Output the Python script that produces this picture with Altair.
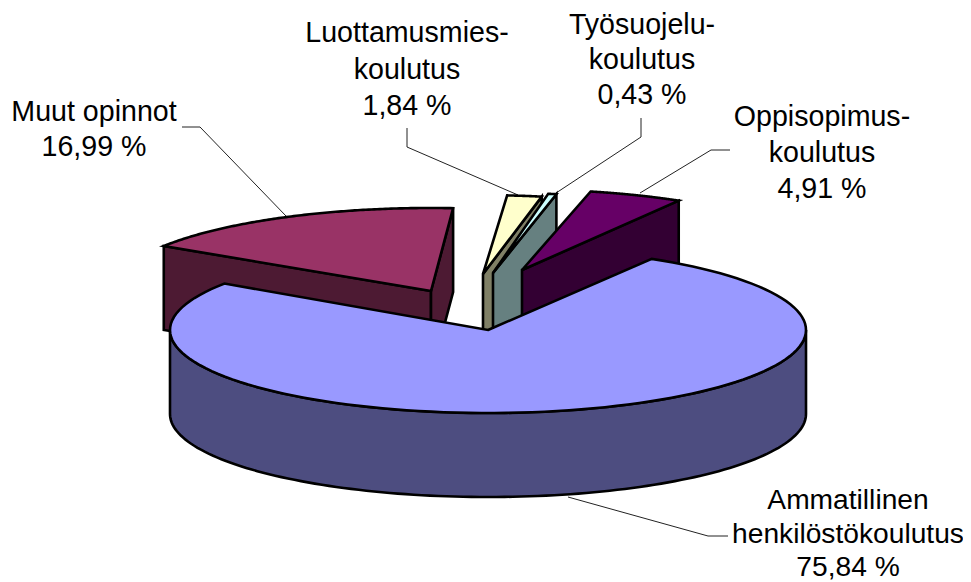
import math
import altair as alt

# --- chart values ---
categories = ["Ammatillinen henkilöstökoulutus", "Muut opinnot", "Luottamusmies-koulutus",
              "Työsuojelu-koulutus", "Oppisopimus-koulutus"]
shares = [75.84, 16.99, 1.84, 0.43, 4.91]
label_texts = ["Ammatillinen\nhenkilöstökoulutus\n75,84 %", "Muut opinnot\n16,99 %",
               "Luottamusmies-\nkoulutus\n1,84 %", "Työsuojelu-\nkoulutus\n0,43 %",
               "Oppisopimus-\nkoulutus\n4,91 %"]
top_colors = ["#9999ff", "#993366", "#ffffcc", "#ccffff", "#660066"]
side_colors = ["#4d4d80", "#4d1a33", "#808066", "#668080", "#330033"]

# --- pie geometry (page pixels) ---
CX, CY, RX, RY, DEPTH = 488, 330, 318, 83, 84
START_ANGLE = 59.0
apex_offset = [(0, 0), (-57, -39), (-5, -56), (5, -57), (34, -60)]
radius_factor = [1.0, 1.0, 0.95, 0.97, 0.97]
view_shift = [0.0, 1.2, 0.6, 1.5, 0.5]
label_xy = [(848, 501), (94, 112), (407, 33), (642, 25), (822, 117)]
label_size = [28.2, 28.6, 28.6, 28.6, 28.6]
label_leading = [33.5, 35, 36.5, 35, 36]
leaders = [
    [(568, 497), (708, 536), (728, 536)],
    [(182, 127), (200, 127), (286, 216)],
    [(407, 128), (407, 147), (518, 195)],
    [(641, 118), (641, 137), (556, 193)],
    [(730, 150), (711, 150), (640, 193)],
]

def rim(ax, ay, f, deg, dz=0):
    t = math.radians(deg)
    return [ax + f * RX * math.cos(t), ay - f * RY * math.sin(t) + dz]

def arc(ax, ay, f, a0, a1, dz=0, n=120):
    return [rim(ax, ay, f, a0 + (a1 - a0) * i / n, dz) for i in range(n + 1)]

def poly(points, fill):
    pts = list(points) + [points[0]]
    return {"type": "Feature", "properties": {"fill": fill},
            "geometry": {"type": "Polygon", "coordinates": [pts]}}

# slice angle spans, clockwise from the start angle
spans, a = [], START_ANGLE
for s in shares:
    spans.append((a, a - s * 3.6))
    a -= s * 3.6

features = []
def radial_face(ax, ay, f, deg, fill):
    o = rim(ax, ay, f, deg)
    return poly([[ax, ay], o, [o[0], o[1] + DEPTH], [ax, ay + DEPTH]], fill)

# back-to-front: Muut, Luottamus, Tyosuojelu, Oppisopimus, then the main slice
for i in [1, 2, 3, 4]:
    a0, a1 = spans[i]
    a0n, a1n = a0 % 360 + view_shift[i], a1 % 360 + view_shift[i]
    ax, ay = CX + apex_offset[i][0], CY + apex_offset[i][1]
    f = radius_factor[i]
    if i == 1:
        features.append(radial_face(ax, ay, f, a0n, side_colors[i]))
    features.append(radial_face(ax, ay, f, a1n, side_colors[i]))
    top = [[ax, ay]] + arc(ax, ay, f, a0n, a1n)
    features.append(poly(top, top_colors[i]))

# main slice: front wall, then top face
a0, a1 = spans[0]
wall = arc(CX, CY, 1, 180, 360) + arc(CX, CY, 1, 360, 180, DEPTH)
features.append(poly(wall, side_colors[0]))
features.append(poly([[CX, CY]] + arc(CX, CY, 1, a0, a1), top_colors[0]))

line_features = [{"type": "Feature", "properties": {},
                  "geometry": {"type": "LineString", "coordinates": [list(p) for p in l]}}
                 for l in leaders]

projection = alt.Projection(type="identity", scale=1, translate=[-8, -8])

pie = alt.Chart(alt.Data(values=features)).mark_geoshape(
    stroke="black", strokeWidth=2.6, strokeJoin="miter"
).encode(fill=alt.Fill("properties.fill:N", scale=None)).project(**projection.to_dict())

lines = alt.Chart(alt.Data(values=line_features)).mark_geoshape(
    filled=False, stroke="#222222", strokeWidth=1
).project(**projection.to_dict())

texts = []
for (x, y), t, fs, lh in zip(label_xy, label_texts, label_size, label_leading):
    texts.append(alt.Chart(alt.Data(values=[{"t": t}])).mark_text(
        font="Liberation Sans", fontSize=fs, lineBreak="\n", lineHeight=lh,
        align="center", baseline="middle", color="black"
    ).encode(x=alt.value(x - 8), y=alt.value(y - 8), text="t:N"))

chart = alt.layer(lines, pie, *texts).properties(
    width=955, height=574, padding=0, autosize=alt.AutoSizeParams(type="none")
).configure_view(stroke=None)

chart.save("out.html", embed_options={"renderer": "svg", "actions": False})
